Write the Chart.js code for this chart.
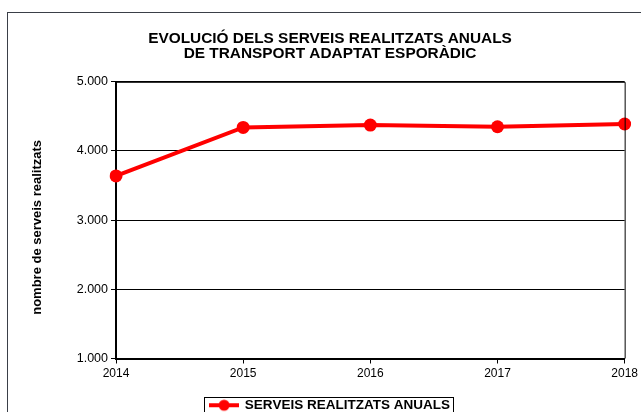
<!DOCTYPE html>
<html>
<head>
<meta charset="utf-8">
<style>
  html, body { margin: 0; padding: 0; background: #fff; overflow: hidden; }
  .chartBox { position: absolute; left: 0; top: 0; width: 641px; height: 412px; overflow: hidden; }
  .chartBox canvas { display: block; }
</style>
</head>
<body>
<div class="chartBox">
  <canvas id="myChart" width="641" height="430"></canvas>
</div>

<script src="https://cdn.jsdelivr.net/npm/chart.js"></script>
<script>
  // data
  const years = ['2014', '2015', '2016', '2017', '2018'];
  const serveis = [3640, 4340, 4375, 4350, 4390];
  const seriesName = 'SERVEIS REALITZATS ANUALS';
  const titleLines = ['EVOLUCIÓ DELS SERVEIS REALITZATS ANUALS', 'DE TRANSPORT ADAPTAT ESPORÀDIC'];
  const yTitle = 'nombre de serveis realitzats';

  const FONT = "'Liberation Sans', Arial, sans-serif";
  const RED = '#ff0000';

  // legend marker: line with a dot
  const marker = document.createElement('canvas');
  marker.width = 30; marker.height = 14;
  const mc = marker.getContext('2d');
  mc.strokeStyle = RED; mc.lineWidth = 4;
  mc.beginPath(); mc.moveTo(0, 7); mc.lineTo(30, 7); mc.stroke();
  mc.fillStyle = RED;
  mc.beginPath(); mc.arc(15, 7, 5.5, 0, Math.PI * 2); mc.fill();

  const thousands = v => String(v).replace(/\B(?=(\d{3})+(?!\d))/g, '.');

  // frame around the whole chart, plot area and legend
  const frames = {
    id: 'frames',
    beforeDraw(chart) {
      const c = chart.ctx;
      c.save();
      c.strokeStyle = '#3a3f48';
      c.lineWidth = 1;
      c.strokeRect(7.5, 12.5, 800, 600);
      c.restore();
    },
    afterDraw(chart) {
      const c = chart.ctx, a = chart.chartArea;
      c.save();
      c.strokeStyle = '#000';
      c.lineWidth = 1;
      c.beginPath();
      c.moveTo(a.left, a.top + 0.5); c.lineTo(a.right + 0.5, a.top + 0.5);
      c.lineTo(a.right + 0.5, a.bottom);
      c.stroke();
      const hb = chart.legend.legendHitBoxes[0];
      if (hb) {
        c.strokeRect(Math.round(hb.left) - 5.5, Math.round(hb.top) - 1.5, Math.round(hb.width) + 9, 40);
      }
      c.restore();
    }
  };

  const data = {
    labels: years,
    datasets: [{
      label: seriesName,
      data: serveis,
      borderColor: RED,
      backgroundColor: RED,
      borderWidth: 4,
      pointStyle: 'circle',
      pointRadius: 6.5,
      pointHoverRadius: 6.5,
      pointBackgroundColor: RED,
      pointBorderWidth: 0,
      tension: 0
    }]
  };

  const config = {
    type: 'line',
    data,
    plugins: [frames],
    options: {
      responsive: false,
      animation: false,
      layout: { padding: { left: 33, right: 14, top: 0, bottom: 8 } },
      plugins: {
        title: {
          display: true,
          text: titleLines,
          color: '#000',
          font: { family: FONT, size: 15.4, weight: 'bold', lineHeight: 1.0 },
          padding: { top: 31, bottom: 20 }
        },
        legend: {
          position: 'bottom',
          labels: {
            color: '#000',
            font: { family: FONT, size: 13.5, weight: 'bold' },
            usePointStyle: true,
            pointStyleWidth: 28,
            boxHeight: 13,
            generateLabels: chart => [{
              text: seriesName,
              pointStyle: marker,
              fillStyle: RED,
              strokeStyle: RED,
              lineWidth: 0,
              datasetIndex: 0
            }],
            padding: 10
          }
        },
        tooltip: { enabled: false }
      },
      scales: {
        x: {
          offset: false,
          grid: { display: true, drawOnChartArea: false, color: '#000', tickLength: 5 },
          border: { color: '#000', width: 2 },
          ticks: { color: '#000', font: { family: FONT, size: 12 }, padding: 3, maxRotation: 0 },
          afterFit(scale) { scale.height = 30; }
        },
        y: {
          min: 1000,
          max: 5000,
          ticks: { stepSize: 1000, color: '#000', font: { family: FONT, size: 12.5 }, padding: 3, callback: v => thousands(v) },
          grid: { color: '#000', lineWidth: 1, tickLength: 5 },
          border: { color: '#000', width: 2 },
          title: { display: true, text: yTitle + '    ', color: '#000', font: { family: FONT, size: 13, weight: 'bold' }, padding: { top: -3, bottom: 10 } },
          afterFit(scale) { scale.width = 83; }
        }
      }
    }
  };

  const myChart = new Chart(document.getElementById('myChart'), config);
</script>
</body>
</html>
